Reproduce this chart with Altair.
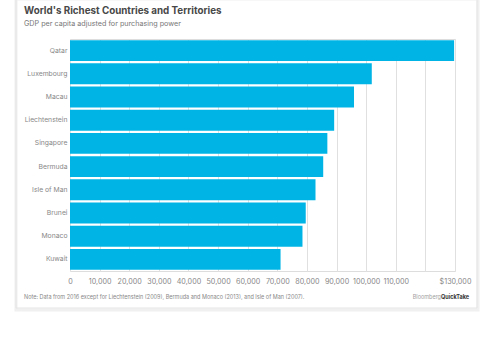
import altair as alt
import pandas as pd

countries = ["Qatar", "Luxembourg", "Macau", "Liechtenstein", "Singapore",
             "Bermuda", "Isle of Man", "Brunei", "Monaco", "Kuwait"]
gdp = [129700, 101900, 95900, 89200, 86900, 85500, 82900, 79600, 78500, 71100]
tick_values = [0, 10000, 20000, 30000, 40000, 50000, 60000, 70000, 80000,
               90000, 100000, 110000, 120000, 130000]

df = pd.DataFrame({"country": countries, "gdp": gdp})

FONT = "Inter"
W, H = 385, 232

shadow = alt.Chart(pd.DataFrame({"a": [0]})).mark_rect(
    fill=None, stroke="#f0f0f0", strokeWidth=3
).encode(
    x=alt.value(-54), x2=alt.value(408), y=alt.value(-40), y2=alt.value(271)
)

card = alt.Chart(pd.DataFrame({"a": [0]})).mark_rect(
    fill=None, stroke="#e4e4e4", strokeWidth=1
).encode(
    x=alt.value(-54), x2=alt.value(407), y=alt.value(-40), y2=alt.value(269)
)

bars = alt.Chart(df).mark_bar(color="#00B4E6").encode(
    y=alt.Y("country:N", sort=countries, title=None,
            scale=alt.Scale(paddingInner=0.1, paddingOuter=0.05),
            axis=alt.Axis(labelFont=FONT, labelFontSize=6.8, labelColor="#888888",
                          labelPadding=3, ticks=False, domain=False)),
    x=alt.X("gdp:Q", title=None,
            scale=alt.Scale(domain=[0, 130000], nice=False),
            axis=alt.Axis(values=tick_values, labelFont=FONT, labelFontSize=7.2,
                          labelColor="#888888", labelPadding=6, ticks=False,
                          labelFlush=False, labelOverlap=False,
                          domain=False, grid=True, gridColor="#e0e0e0",
                          labelExpr="datum.value == 130000 ? '$130,000' : (datum.value == 120000 ? '' : format(datum.value, ','))")),
)

title = alt.Chart(pd.DataFrame({"t": ["World's Richest Countries and Territories"]})).mark_text(
    align="left", baseline="alphabetic", font=FONT, fontSize=9.8, fontWeight="bold",
    color="#484848"
).encode(text="t:N", x=alt.value(-46), y=alt.value(-25))

subtitle = alt.Chart(pd.DataFrame({"t": ["GDP per capita adjusted for purchasing power"]})).mark_text(
    align="left", baseline="alphabetic", font=FONT, fontSize=7.2, color="#777777"
).encode(text="t:N", x=alt.value(-46), y=alt.value(-13.5))

note = alt.Chart(pd.DataFrame({"t": ["Note: Data from 2016 except for Liechtenstein (2009), Bermuda and Monaco (2013), and Isle of Man (2007)."]})).mark_text(
    align="left", baseline="middle", font=FONT, fontSize=5.5, color="#888888"
).encode(text="t:N", x=alt.value(-46), y=alt.value(258))

brand1 = alt.Chart(pd.DataFrame({"t": ["Bloomberg"]})).mark_text(
    align="right", baseline="middle", font=FONT, fontSize=5.5, color="#a0a0a0"
).encode(text="t:N", x=alt.value(371), y=alt.value(258))

brand2 = alt.Chart(pd.DataFrame({"t": ["QuickTake"]})).mark_text(
    align="left", baseline="middle", font=FONT, fontSize=5.5, fontWeight="bold",
    color="#333333"
).encode(text="t:N", x=alt.value(371), y=alt.value(258))

chart = alt.layer(shadow, card, bars, title, subtitle, note, brand1, brand2).properties(
    width=W, height=H,
    autosize=alt.AutoSizeParams(type="none"),
    padding={"left": 70, "top": 39, "right": 33, "bottom": 85},
).configure_view(stroke=None).configure(background="white")

chart.save("out.html", embed_options={"renderer": "svg", "actions": False})
